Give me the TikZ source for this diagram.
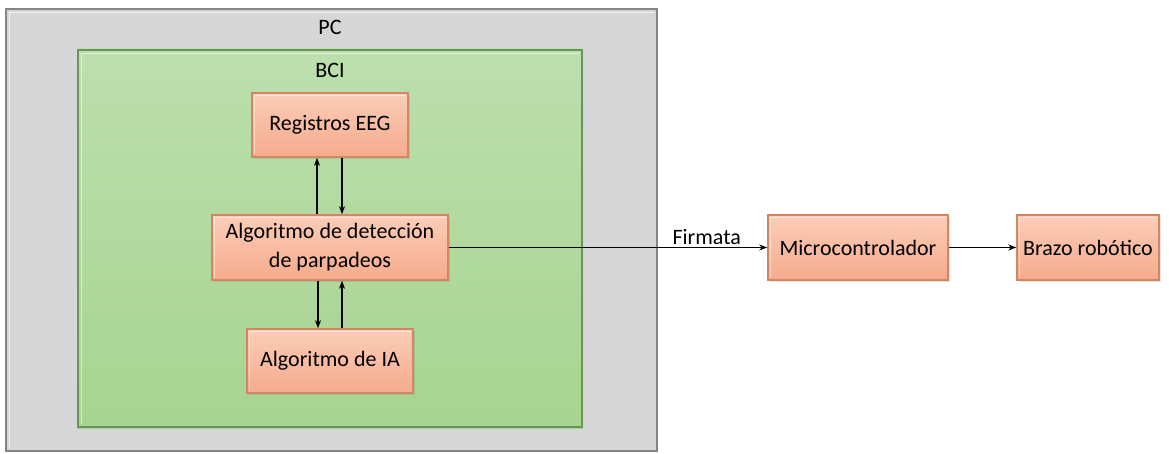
\documentclass[tikz,border=0pt]{standalone}
\usepackage{fontspec}
\setmainfont{Carlito}
\usetikzlibrary{shadows,arrows.meta}
\definecolor{pcfill}{HTML}{D6D6D6}
\definecolor{pcedge}{HTML}{858585}
\definecolor{bcitop}{HTML}{BCDFAE}
\definecolor{bcibot}{HTML}{A7D48F}
\definecolor{bciedge}{HTML}{6A955A}
\definecolor{blktop}{HTML}{FBCDB8}
\definecolor{blkbot}{HTML}{F5AB8C}
\definecolor{blkedge}{HTML}{D48563}
\tikzset{
  panel/.style={line width=1.8pt},
  blk/.style={draw=blkedge, line width=1.6pt, top color=blktop, bottom color=blkbot,
    font=\fontsize{22}{29}\selectfont, align=center, inner sep=0pt,
    drop shadow={opacity=0.22, shadow xshift=2pt, shadow yshift=-2pt},
    path picture={\draw[white, opacity=0.55, line width=1.8pt]
      ([shift={(2.5pt,-2.5pt)}]path picture bounding box.north west) --
      ([shift={(-2.5pt,-2.5pt)}]path picture bounding box.north east);
      \draw[white, opacity=0.45, line width=1.8pt]
      ([shift={(2.5pt,-2.5pt)}]path picture bounding box.north west) --
      ([shift={(2.5pt,2.5pt)}]path picture bounding box.south west);}},
  link/.style={line width=1.8pt, -{Stealth[length=8pt,width=6pt]}},
  lbl/.style={font=\fontsize{22}{26}\selectfont}
}
\begin{document}
\begin{tikzpicture}[x=1pt,y=-1pt]
\useasboundingbox (0,0) rectangle (1169,454);
\fill[white] (0,0) rectangle (1169,454);
% outer PC panel
\fill[pcfill] (5,8) rectangle (658,452);
\draw[pcedge, panel] (6,9) rectangle (657,451);
\draw[white, opacity=0.7, line width=1.2pt] (9.5,448) -- (9.5,12.5) -- (654,12.5);
\node[lbl] (pc) at (330,27) {PC};
% inner BCI panel
\shade[top color=bcitop, bottom color=bcibot] (77,49) rectangle (583,428);
\draw[bciedge, panel] (78,50) rectangle (582,427);
\draw[white, opacity=0.5, line width=1.2pt] (81.5,424) -- (81.5,53.5) -- (579,53.5);
\node[lbl] (bci) at (330,70) {BCI};
% processing blocks
\node[blk, minimum width=156pt, minimum height=64pt] (reg) at (330,125) {Registros EEG};
\node[blk, minimum width=236pt, minimum height=65pt] (det) at (330,247.5) {Algoritmo de detección\\de parpadeos};
\node[blk, minimum width=166pt, minimum height=64pt] (ia) at (330,361) {Algoritmo de IA};
\node[blk, minimum width=180pt, minimum height=65pt] (mcu) at (858,247.5) {Microcontrolador};
\node[blk, minimum width=142pt, minimum height=65pt] (arm) at (1088,247.5) {Brazo robótico};
% data flow
\draw[link] ([xshift=-13pt]det.north) -- ([xshift=-13pt]reg.south);
\draw[link] ([xshift=12pt]reg.south) -- ([xshift=12pt]det.north);
\draw[link] ([xshift=-12pt]det.south) -- ([xshift=-12pt]ia.north);
\draw[link] ([xshift=12pt]ia.north) -- ([xshift=12pt]det.south);
\draw[link] (det.east) -- node[lbl, above, pos=0.81, yshift=-1pt] {Firmata} (mcu.west);
\draw[link] (mcu.east) -- (arm.west);
\end{tikzpicture}
\end{document}
